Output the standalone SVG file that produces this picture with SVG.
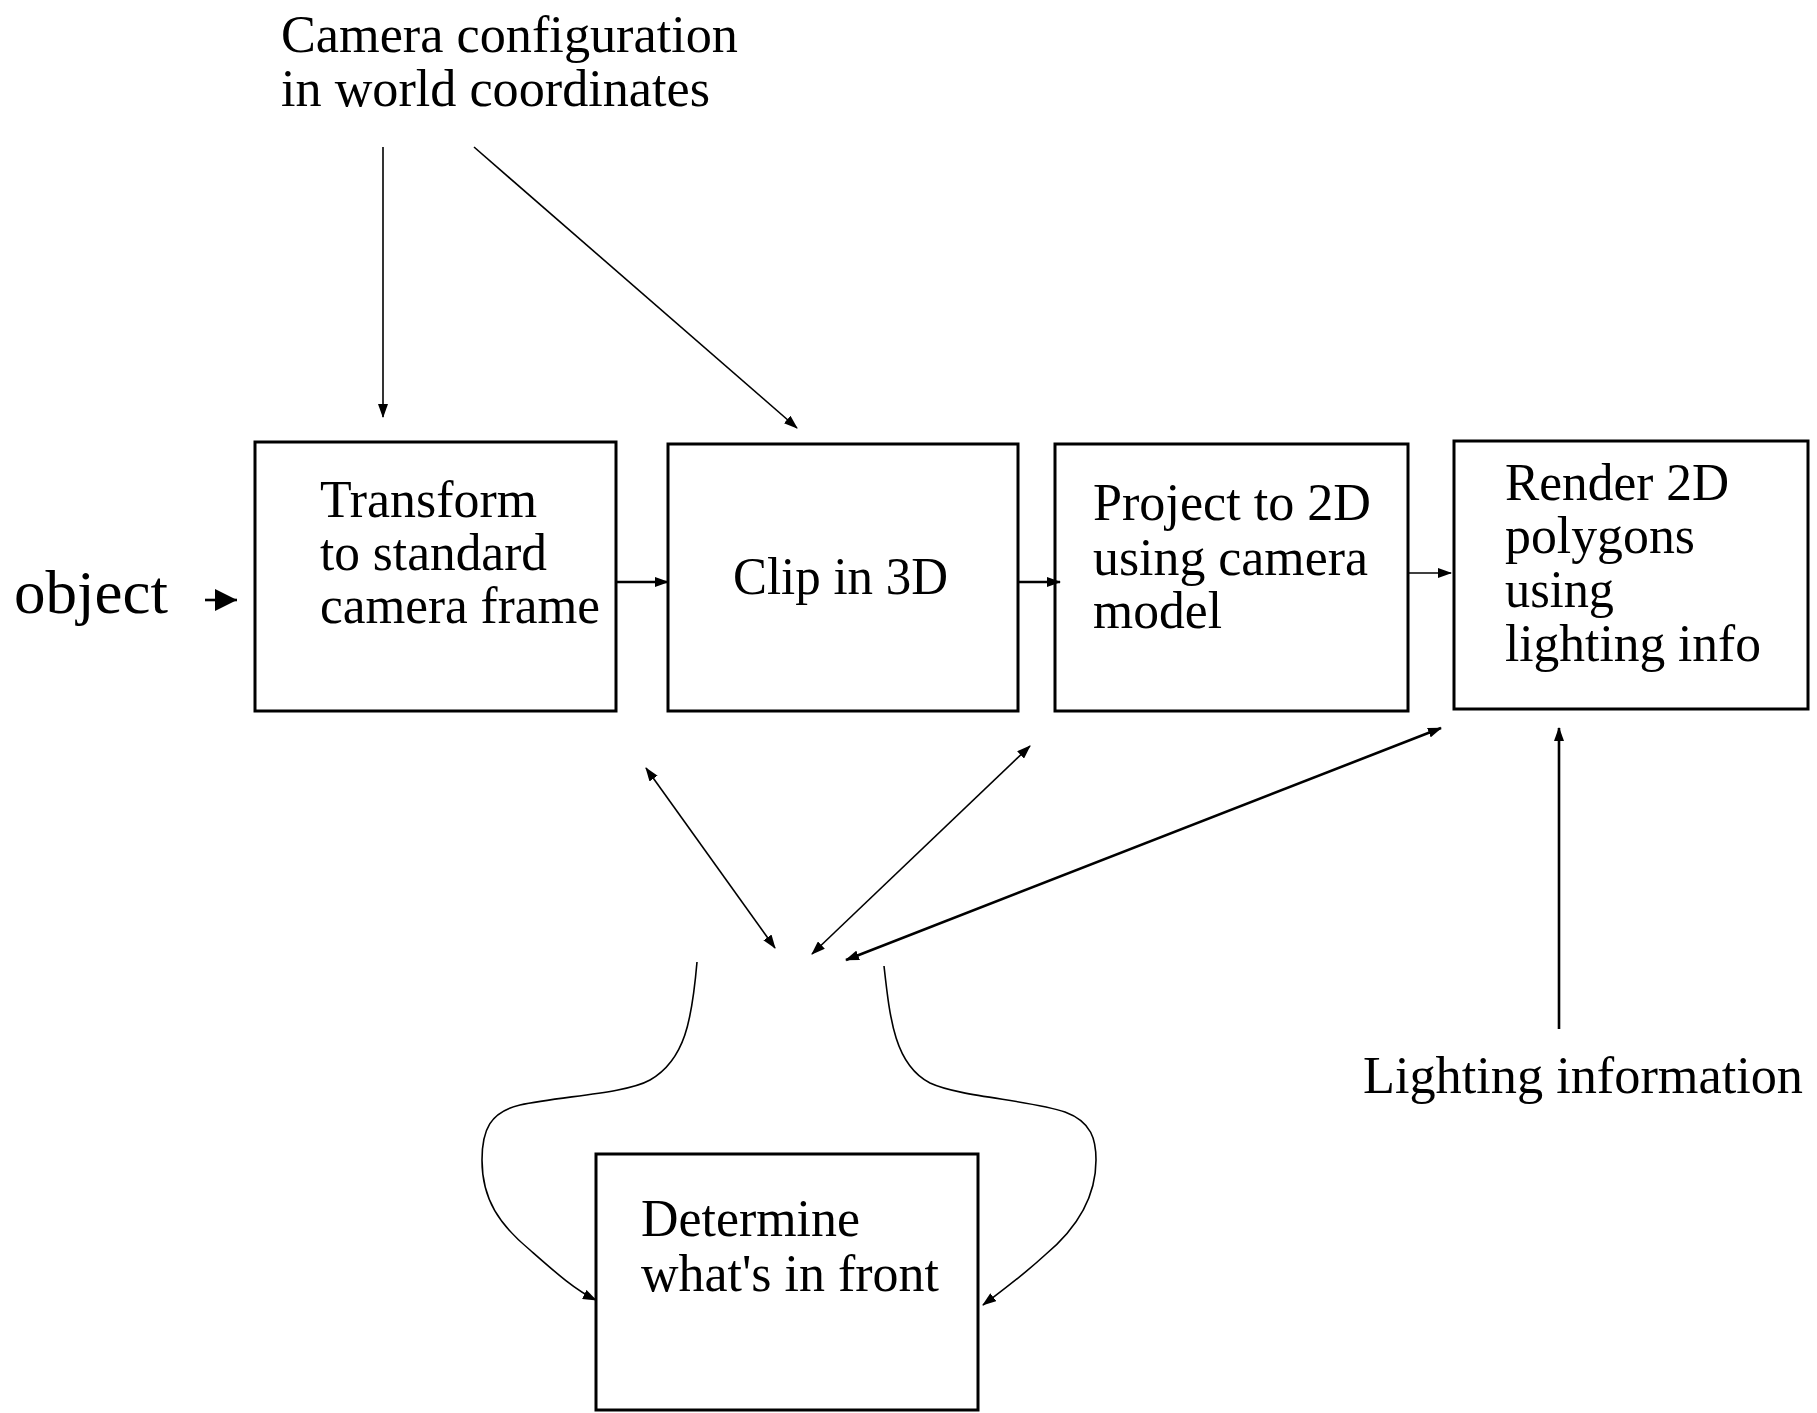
<svg xmlns="http://www.w3.org/2000/svg" width="1817" height="1413" viewBox="0 0 1817 1413">
<style>
  text { font-family: "Liberation Serif", "Times New Roman", serif; fill: #000; font-size: 52px; }
  .box { fill: #fff; stroke: #000; stroke-width: 3; }
  .ln { fill: none; stroke: #000; stroke-width: 1.6; }
  .thk { stroke-width: 2.6; }
</style>
<defs>
  <marker id="ah" markerUnits="userSpaceOnUse" markerWidth="14" markerHeight="10" refX="13" refY="5" orient="auto-start-reverse">
    <path d="M0,0 L14,5 L0,10 z" fill="#000"/>
  </marker>
  <marker id="ahBig" markerUnits="userSpaceOnUse" markerWidth="22" markerHeight="22" refX="22" refY="11" orient="auto">
    <path d="M0,0 L22,11 L0,22 z" fill="#000"/>
  </marker>
</defs>
<rect width="1817" height="1413" fill="#fff"/>

<g id="camera-config">
  <text x="281" y="52" textLength="457" lengthAdjust="spacingAndGlyphs">Camera configuration</text>
  <text x="281" y="106" textLength="429" lengthAdjust="spacingAndGlyphs">in world coordinates</text>
</g>
<g id="object">
  <text x="14" y="613" style="font-size:62px" textLength="154" lengthAdjust="spacingAndGlyphs">object</text>
</g>
<g id="transform">
  <rect class="box" x="255" y="442" width="361" height="269"/>
  <text x="320" y="517" textLength="217" lengthAdjust="spacingAndGlyphs">Transform</text>
  <text x="320" y="570" textLength="227" lengthAdjust="spacingAndGlyphs">to standard</text>
  <text x="320" y="623" textLength="280" lengthAdjust="spacingAndGlyphs">camera frame</text>
</g>
<g id="clip">
  <rect class="box" x="668" y="444" width="350" height="267"/>
  <text x="733" y="594" textLength="215" lengthAdjust="spacingAndGlyphs">Clip in 3D</text>
</g>
<g id="project">
  <rect class="box" x="1055" y="444" width="353" height="267"/>
  <text x="1093" y="520" textLength="278" lengthAdjust="spacingAndGlyphs">Project to 2D</text>
  <text x="1093" y="575" textLength="275" lengthAdjust="spacingAndGlyphs">using camera</text>
  <text x="1093" y="628" textLength="129" lengthAdjust="spacingAndGlyphs">model</text>
</g>
<g id="render">
  <rect class="box" x="1454" y="441" width="354" height="268"/>
  <text x="1505" y="500" textLength="224" lengthAdjust="spacingAndGlyphs">Render 2D</text>
  <text x="1505" y="553" textLength="190" lengthAdjust="spacingAndGlyphs">polygons</text>
  <text x="1505" y="607" textLength="109" lengthAdjust="spacingAndGlyphs">using</text>
  <text x="1505" y="661" textLength="256" lengthAdjust="spacingAndGlyphs">lighting info</text>
</g>
<g id="determine">
  <rect class="box" x="596" y="1154" width="382" height="256"/>
  <text x="641" y="1236" textLength="219" lengthAdjust="spacingAndGlyphs">Determine</text>
  <text x="641" y="1291" textLength="298" lengthAdjust="spacingAndGlyphs">what's in front</text>
</g>
<g id="lighting">
  <text x="1363" y="1093" textLength="440" lengthAdjust="spacingAndGlyphs">Lighting information</text>
</g>

<g id="connectors">
  <path class="ln" d="M383,147 L383,417" marker-end="url(#ah)"/>
  <path class="ln" d="M474,147 L797,428" marker-end="url(#ah)"/>
  <path class="ln thk" d="M205,600 L237,600" marker-end="url(#ahBig)"/>
  <path class="ln thk" d="M617,582 L668,582" marker-end="url(#ah)"/>
  <path class="ln thk" d="M1019,582 L1060,582" marker-end="url(#ah)"/>
  <path class="ln" d="M1409,573 L1451,573" marker-end="url(#ah)"/>
  <path class="ln" d="M646,768 L775,948" marker-start="url(#ah)" marker-end="url(#ah)"/>
  <path class="ln" d="M1030,746 L812,954" marker-start="url(#ah)" marker-end="url(#ah)"/>
  <path class="ln thk" d="M1441,728 L846,960" marker-start="url(#ah)" marker-end="url(#ah)"/>
  <path class="ln thk" d="M1559,1029 L1559,728" marker-end="url(#ah)"/>
  <path class="ln" d="M697,962 C692,1020 685,1060 650,1080 C625,1094 560,1096 520,1105 C490,1112 482,1130 482,1160 C482,1200 500,1225 530,1250 C555,1272 575,1290 596,1300" marker-end="url(#ah)"/>
  <path class="ln" d="M884,966 C890,1020 895,1065 930,1083 C960,1097 1030,1100 1065,1112 C1092,1122 1096,1140 1096,1160 C1096,1200 1075,1230 1045,1255 C1020,1278 1000,1292 983,1305" marker-end="url(#ah)"/>
</g>
</svg>
